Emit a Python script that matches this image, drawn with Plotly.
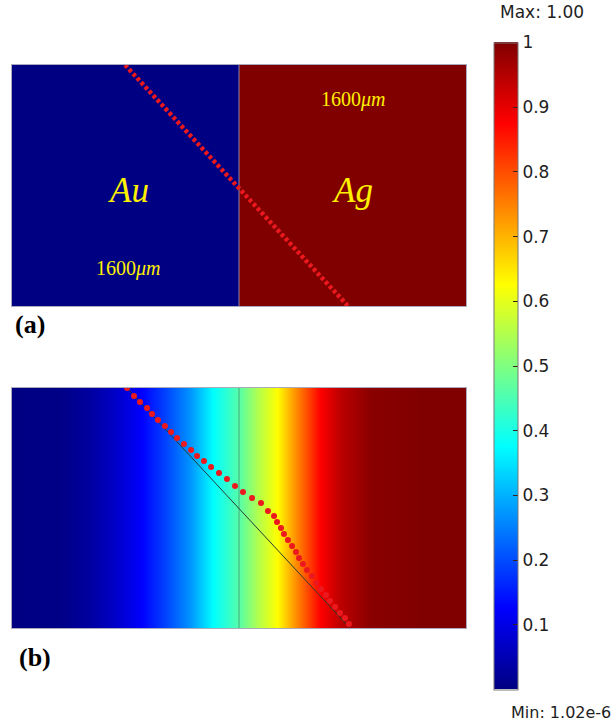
import plotly.graph_objects as go

# ---------------- data ----------------
# panel (a): two materials, normalised concentration
a_cell_x = [-800, 800]            # cell centres (um)
a_cell_y = [400, 1200]
a_values = [[0.0, 1.0], [0.0, 1.0]]
a_line_x = [-803, 768]             # initial straight interface (um)
a_line_y = [1600, 0]

# panel (b): diffused profile across x
b_x = [-1600, -1262, -1050, -874, -698, -522, -345, -183, 0, 134, 268, 416, 571, 712, 923, 1276, 1600]
b_val = [0.0, 0.005, 0.03, 0.07, 0.12, 0.19, 0.27, 0.375, 0.46, 0.55, 0.625, 0.75, 0.875, 0.94, 0.99, 1.0, 1.0]
b_y = [0, 1600]

# deformed marker line in (b)
curve_x = [-789, -740, -698, -648, -613, -571, -522, -479, -437, -388, -338, -296, -247, -197, -141,
           -85, -28, 28, 92, 155, 204, 247, 268, 296, 317, 345, 374, 402, 423, 451, 479, 515, 543,
           578, 613, 641, 677, 712, 747, 775]
curve_y = [1600, 1547, 1507, 1467, 1427, 1387, 1347, 1307, 1267, 1227, 1187, 1147, 1113, 1073, 1033,
           993, 947, 907, 867, 833, 780, 747, 707, 667, 627, 587, 547, 507, 467, 427, 387, 347, 300,
           260, 220, 180, 140, 100, 67, 27]
ref_line_x = [-789, 782]
ref_line_y = [1600, 0]

cbar_ticks = [0.1, 0.2, 0.3, 0.4, 0.5, 0.6, 0.7, 0.8, 0.9, 1.0]
cbar_labels = ["0.1", "0.2", "0.3", "0.4", "0.5", "0.6", "0.7", "0.8", "0.9", "1"]

# ---------------- style ----------------
W, H = 613, 724
jet = [[0.0, "rgb(0,0,130)"], [0.125, "rgb(0,0,255)"], [0.375, "rgb(0,255,255)"],
       [0.625, "rgb(255,255,0)"], [0.875, "rgb(255,0,0)"], [1.0, "rgb(128,0,0)"]]
red = "rgb(235,25,30)"

def px_x(p):
    return p / W

def px_y(p):
    return 1 - p / H

fig = go.Figure()

fig.add_trace(go.Heatmap(z=a_values, x=a_cell_x, y=a_cell_y, colorscale=jet, zmin=0, zmax=1,
                         showscale=False, xaxis="x", yaxis="y", hoverinfo="skip"))
fig.add_trace(go.Scatter(x=[0, 0], y=[0, 1600], mode="lines", xaxis="x", yaxis="y",
                         line=dict(color="rgba(150,150,180,0.9)", width=1), showlegend=False))
fig.add_trace(go.Scatter(x=a_line_x, y=a_line_y, mode="lines", xaxis="x", yaxis="y",
                         line=dict(color=red, width=4.5, dash="3.5px,2.4px"), showlegend=False))

fig.add_trace(go.Heatmap(z=[b_val, b_val], x=b_x, y=b_y, colorscale=jet, zmin=0, zmax=1,
                         zsmooth="best", xaxis="x2", yaxis="y2", hoverinfo="skip",
                         colorbar=dict(
                             x=px_x(494), xanchor="left", y=px_y(366), yanchor="middle",
                             thickness=24, thicknessmode="pixels", len=647, lenmode="pixels",
                             outlinecolor="rgb(120,120,120)", outlinewidth=1,
                             tickvals=cbar_ticks, ticktext=cbar_labels,
                             ticks="inside", ticklen=5, tickcolor="rgb(60,30,30)",
                             tickfont=dict(family="DejaVu Sans", size=17, color="rgb(30,30,30)"),
                             ypad=0, xpad=0)))
fig.add_trace(go.Scatter(x=[0, 0], y=[0, 1600], mode="lines", xaxis="x2", yaxis="y2",
                         line=dict(color="rgba(60,110,100,0.6)", width=1), showlegend=False))
fig.add_trace(go.Scatter(x=ref_line_x, y=ref_line_y, mode="lines", xaxis="x2", yaxis="y2",
                         line=dict(color="rgb(40,60,50)", width=1), showlegend=False))
fig.add_trace(go.Scatter(x=curve_x, y=curve_y, mode="markers", xaxis="x2", yaxis="y2",
                         marker=dict(color=red, size=6, line=dict(width=0)), showlegend=False))

axis_common = dict(showgrid=False, zeroline=False, showticklabels=False, ticks="",
                   showline=True, mirror=True, linecolor="rgb(170,170,190)", linewidth=1)
fig.update_layout(
    width=W, height=H, margin=dict(l=0, r=0, t=0, b=0),
    paper_bgcolor="white", plot_bgcolor="white", showlegend=False,
    xaxis=dict(domain=[px_x(12), px_x(466)], range=[-1600, 1600], anchor="y", **axis_common),
    yaxis=dict(domain=[px_y(306), px_y(65)], range=[0, 1600], anchor="x", **axis_common),
    xaxis2=dict(domain=[px_x(12), px_x(466)], range=[-1600, 1600], anchor="y2", **axis_common),
    yaxis2=dict(domain=[px_y(628), px_y(388)], range=[0, 1600], anchor="x2", **axis_common),
)

serif = "Liberation Serif"
yellow = "rgb(255,240,0)"
ann = [
    dict(x=-782, y=770, xref="x", yref="y", text="<i>Au</i>",
         font=dict(family=serif, size=35, color=yellow)),
    dict(x=803, y=770, xref="x", yref="y", text="<i>Ag</i>",
         font=dict(family=serif, size=35, color=yellow)),
    dict(x=-782, y=252, xref="x", yref="y", text="1600<i>μm</i>",
         font=dict(family=serif, size=20, color=yellow)),
    dict(x=803, y=1368, xref="x", yref="y", text="1600<i>μm</i>",
         font=dict(family=serif, size=20, color=yellow)),
    dict(x=px_x(13), y=px_y(325), xref="paper", yref="paper", xanchor="left", yanchor="middle",
         text="<b>(a)</b>", font=dict(family=serif, size=26, color="black")),
    dict(x=px_x(17), y=px_y(657), xref="paper", yref="paper", xanchor="left", yanchor="middle",
         text="<b>(b)</b>", font=dict(family=serif, size=26, color="black")),
    dict(x=px_x(542), y=px_y(12), xref="paper", yref="paper", xanchor="center", yanchor="middle",
         text="Max: 1.00", font=dict(family="DejaVu Sans", size=17, color="rgb(30,30,30)")),
    dict(x=px_x(613), y=px_y(712), xref="paper", yref="paper", xanchor="right", yanchor="middle",
         text="Min: 1.02e-6", font=dict(family="DejaVu Sans", size=16, color="rgb(30,30,30)")),
]
for a in ann:
    a["showarrow"] = False
fig.update_layout(annotations=ann)

fig.write_html("out.html")
